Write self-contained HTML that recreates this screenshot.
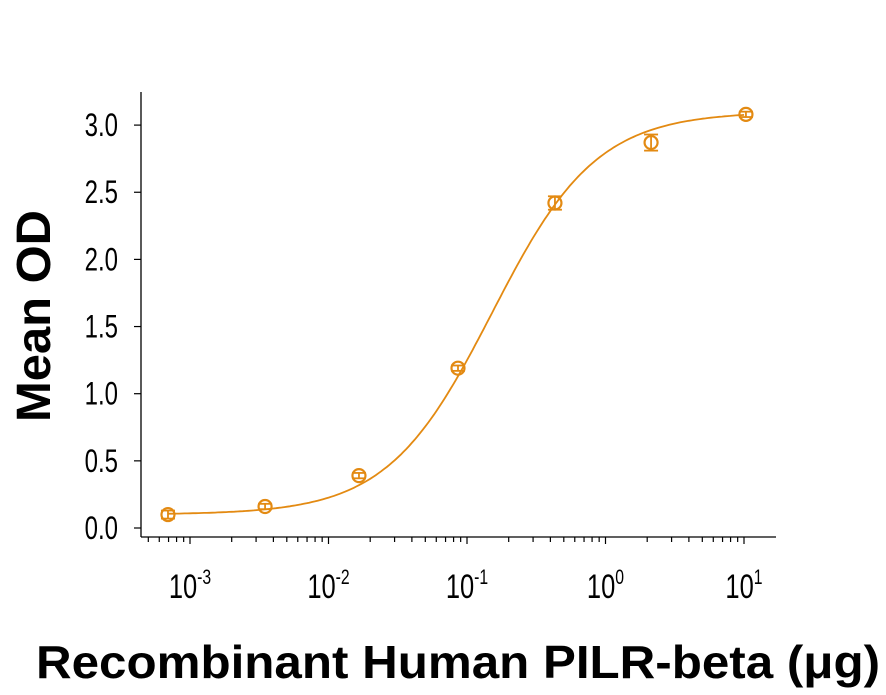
<!DOCTYPE html>
<html><head><meta charset="utf-8"><style>
body{margin:0;background:#fff}
svg text{font-family:"Liberation Sans",sans-serif}
</style></head><body>
<svg id="chart" width="886" height="690" xmlns="http://www.w3.org/2000/svg">
<g id="axes"></g><g id="series"></g>
<text transform="translate(50,316) rotate(-90)" text-anchor="middle" font-size="48" font-weight="bold" textLength="212" lengthAdjust="spacingAndGlyphs">Mean OD</text>
<text x="36" y="678" font-size="46" font-weight="bold" textLength="844" lengthAdjust="spacingAndGlyphs">Recombinant Human PILR-beta (μg)</text>
</svg>
<script>
const xLog=[-3.159,-2.458,-1.78,-1.065,-0.365,0.329,1.014];
const yVals=[0.10,0.16,0.39,1.19,2.42,2.87,3.08];
const yErr=[0.03,0.02,0.02,0.02,0.05,0.06,0.02];
const fitParams=[0.10,3.10,-0.82,1.15]; // bottom, top, logEC50, hill
const yTicks=[0,0.5,1,1.5,2,2.5,3];
const yTickLabels=["0.0","0.5","1.0","1.5","2.0","2.5","3.0"];
const xDecades=[-3,-2,-1,0,1];
const C="#E38A12",NS="http://www.w3.org/2000/svg";
const X=l=>190+(l+3)*138.5, Y=v=>528-v*134.3;
function mk(t,a,p){const e=document.createElementNS(NS,t);for(const k in a)e.setAttribute(k,a[k]);p.appendChild(e);return e;}
const ax=document.getElementById('axes'),se=document.getElementById('series');
let e=mk('line',{x1:141,y1:92,x2:141,y2:537,stroke:'#000','stroke-width':1.3},ax);

e=mk('line',{x1:141,y1:537,x2:776,y2:537,stroke:'#000','stroke-width':1.3},ax);

yTicks.forEach((v,i)=>{
 mk('line',{x1:134,y1:Y(v),x2:141,y2:Y(v),stroke:'#000','stroke-width':1.2},ax);
 const t=mk('text',{x:118,y:Y(v)+11,'text-anchor':'end','font-size':32,transform:`translate(118,0) scale(0.75,1) translate(-118,0)`},ax);
 t.textContent=yTickLabels[i];
 
});
for(let d=-4;d<=1;d++)for(let m=1;m<10;m++){
 const l=d+Math.log10(m),x=X(l);if(x<143||x>776)continue;
 mk('line',{x1:x,y1:537,x2:x,y2:m==1?544:542,stroke:'#000','stroke-width':1.2},ax);
}
xDecades.forEach(d=>{
 const t=mk('text',{x:X(d),y:598,'text-anchor':'middle','font-size':34},ax);
 t.innerHTML=`10<tspan font-size="21" dy="-14">${d}</tspan>`;
 t.setAttribute('transform',`translate(${X(d)},0) scale(0.75,1) translate(${-X(d)},0)`);
 
});
const [b,tp,ec,h]=fitParams;let dp='';
for(let l=xLog[0];l<=xLog[6]+0.001;l+=0.02){const v=b+(tp-b)/(1+Math.pow(10,(ec-l)*h));dp+=(dp?'L':'M')+X(l).toFixed(1)+','+Y(v).toFixed(1);}
e=mk('path',{d:dp,fill:'none',stroke:C,'stroke-width':1.8},se);

xLog.forEach((l,i)=>{
 const x=X(l),y=Y(yVals[i]),y1=Y(yVals[i]+yErr[i]),y2=Y(yVals[i]-yErr[i]);
 const g=mk('g',{},se);
 
 mk('line',{x1:x,y1:y1,x2:x,y2:y2,stroke:C,'stroke-width':1.8},g);
 mk('line',{x1:x-7,y1:y1,x2:x+7,y2:y1,stroke:C,'stroke-width':1.8},g);
 mk('line',{x1:x-7,y1:y2,x2:x+7,y2:y2,stroke:C,'stroke-width':1.8},g);
 mk('circle',{cx:x,cy:y,r:6.5,fill:'none',stroke:C,'stroke-width':2.2},g);
});
</script>
</body></html>
